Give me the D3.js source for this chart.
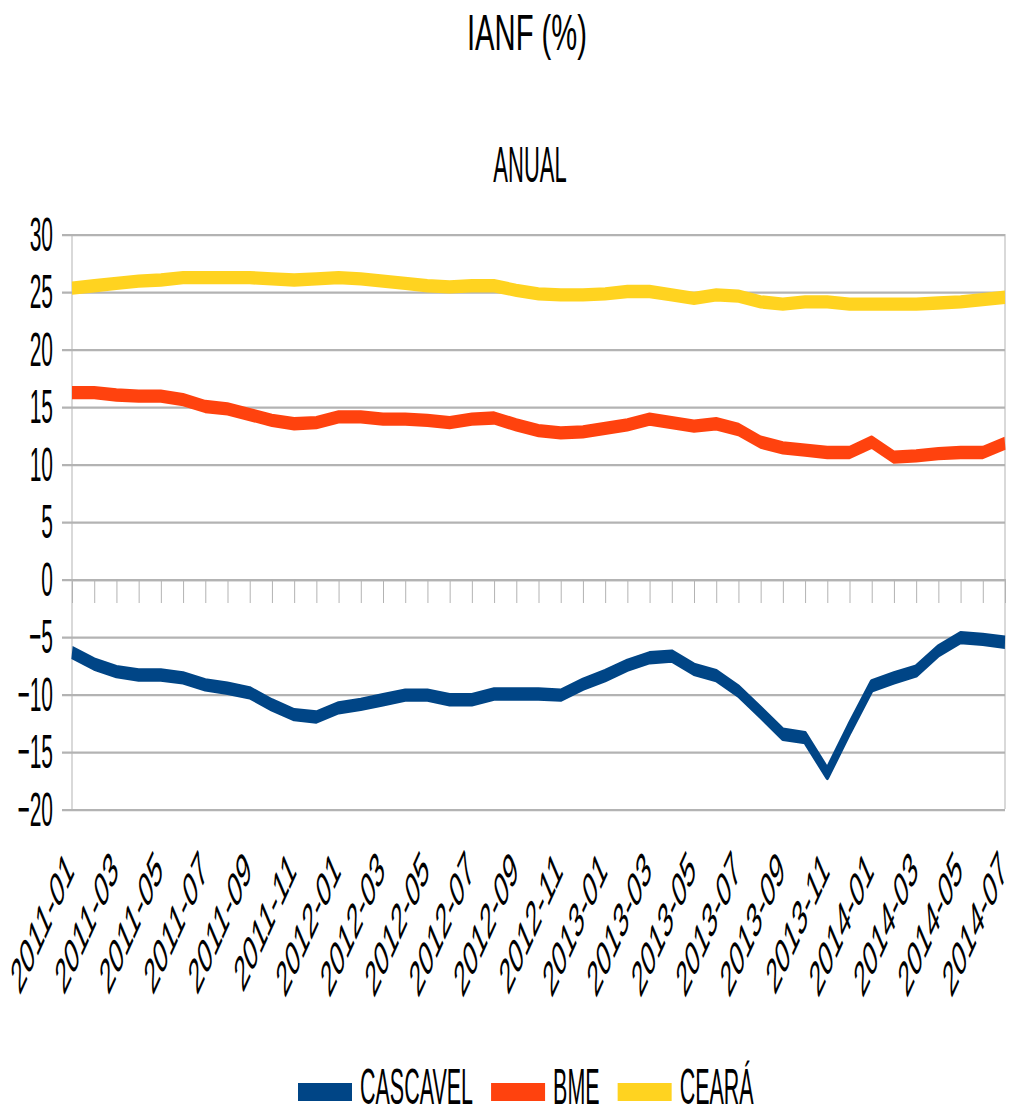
<!DOCTYPE html>
<html>
<head>
<meta charset="utf-8">
<script src="https://cdn.jsdelivr.net/npm/d3@7"></script>
<style>
  body { margin: 0; background: #fff; }
  text { font-family: "Liberation Sans", Arial, sans-serif; fill: #000; }
</style>
</head>
<body>
<div id="chart"></div>
<script>
var months = [
	"2011-01", "2011-02", "2011-03", "2011-04", "2011-05", "2011-06", "2011-07", "2011-08", "2011-09", "2011-10", "2011-11", "2011-12",
	"2012-01", "2012-02", "2012-03", "2012-04", "2012-05", "2012-06", "2012-07", "2012-08", "2012-09", "2012-10", "2012-11", "2012-12",
	"2013-01", "2013-02", "2013-03", "2013-04", "2013-05", "2013-06", "2013-07", "2013-08", "2013-09", "2013-10", "2013-11", "2013-12",
	"2014-01", "2014-02", "2014-03", "2014-04", "2014-05", "2014-06", "2014-07"
];

var cascavel = [-6.4, -7.4, -8.05, -8.35, -8.35, -8.6, -9.2, -9.5, -9.9, -10.95, -11.8, -12.0, -11.2, -10.9, -10.5, -10.1, -10.1, -10.5, -10.5, -10.0,
	-10.0, -10.0, -10.1, -9.15, -8.4, -7.5, -6.85, -6.7, -7.85, -8.4, -9.75, -11.6, -13.5, -13.8, -16.9, -13.0, -9.3, -8.6, -8.0, -6.25, -5.1, -5.25, -5.5];
var bme = [16.2, 16.2, 16.0, 15.9, 15.9, 15.6, 15.0, 14.8, 14.3, 13.8, 13.5, 13.6, 14.1, 14.1, 13.9, 13.9, 13.8, 13.6, 13.9, 14.0,
	13.4, 12.9, 12.7, 12.8, 13.1, 13.4, 13.9, 13.6, 13.3, 13.5, 13.0, 11.9, 11.4, 11.2, 11.0, 11.0, 11.9, 10.6, 10.7, 10.9, 11.0, 11.0, 11.8];
var ceara = [25.3, 25.5, 25.7, 25.9, 26.0, 26.2, 26.2, 26.2, 26.2, 26.1, 26.0, 26.1, 26.2, 26.1, 25.9, 25.7, 25.5, 25.4, 25.5, 25.5,
	25.1, 24.8, 24.7, 24.7, 24.8, 25.0, 25.0, 24.7, 24.4, 24.7, 24.6, 24.1, 23.9, 24.1, 24.1, 23.9, 23.9, 23.9, 23.9, 24.0, 24.1, 24.3, 24.5];

var seriesNames = ["CASCAVEL", "BME", "CEARÁ"];
var seriesColors = ["#004586", "#ff420e", "#ffd320"];
var yTicks = [-20, -15, -10, -5, 0, 5, 10, 15, 20, 25, 30];

// the picture is stretched vertically, so everything is drawn squeezed and scaled back up
var K = 2.3;
var W = 1012, H = 1113;
var plotLeft = 72, plotRight = 1005, plotTop = 234, plotBottom = 809;

var svg = d3.select("#chart").append("svg")
	.attr("width", W)
	.attr("height", H);

svg.append("rect").attr("width", W).attr("height", H).attr("fill", "#fff");

var g = svg.append("g").attr("transform", "scale(1," + K + ")");

var x = d3.scalePoint().domain(months).range([plotLeft, plotRight]);
var y = d3.scaleLinear().domain([-20, 30]).range([plotBottom / K, plotTop / K]);

// titles
g.append("text")
	.attr("x", 527).attr("y", 50 / K)
	.attr("text-anchor", "middle")
	.attr("font-size", 22)
	.attr("textLength", 120)
	.attr("lengthAdjust", "spacingAndGlyphs")
	.text("IANF (%)");

g.append("text")
	.attr("x", 530).attr("y", 182 / K)
	.attr("text-anchor", "middle")
	.attr("font-size", 22)
	.text("ANUAL");

// y axis with grid
var yAxis = g.append("g")
	.attr("transform", "translate(" + plotLeft + ",0)")
	.call(d3.axisLeft(y).tickValues(yTicks).tickSize(-(plotRight - plotLeft)).tickPadding(19).tickFormat(d3.format("d")));
yAxis.select(".domain").remove();
yAxis.selectAll(".tick line")
	.attr("x1", -10)
	.attr("stroke", "#b3b3b3")
	.attr("stroke-width", 1);
yAxis.selectAll(".tick text")
	.attr("font-size", 21)
	.attr("font-family", "Liberation Sans, Arial, sans-serif")
	.attr("fill", "#000");

// frame sides
g.append("line").attr("x1", plotLeft).attr("x2", plotLeft).attr("y1", y(30)).attr("y2", y(-20))
	.attr("stroke", "#b3b3b3").attr("stroke-width", 1);
g.append("line").attr("x1", plotRight).attr("x2", plotRight).attr("y1", y(30)).attr("y2", y(-20))
	.attr("stroke", "#b3b3b3").attr("stroke-width", 1);

// x axis on zero, only tick marks
var xAxis = g.append("g")
	.attr("transform", "translate(0," + y(0) + ")")
	.call(d3.axisBottom(x).tickSize(24 / K).tickSizeOuter(0).tickFormat(""));
xAxis.select(".domain").attr("stroke", "#b3b3b3");
xAxis.selectAll(".tick line").attr("stroke", "#b3b3b3");

// rotated month labels, every other month
g.selectAll(".xlabel")
	.data(months.filter(function (d, i) { return i % 2 === 0; }))
	.enter()
	.append("text")
	.attr("class", "xlabel")
	.attr("text-anchor", "end")
	.attr("font-size", 21.6)
	.attr("dy", "0.35em")
	.attr("transform", function (d) {
		return "translate(" + (x(d) - 2) + "," + (860 / K) + ") rotate(-44)";
	})
	.text(function (d) { return d; });

// lines
var allSeries = [cascavel, bme, ceara];
var line = d3.line()
	.x(function (d, i) { return x(months[i]); })
	.y(function (d) { return y(d); });

g.selectAll(".series")
	.data(allSeries)
	.enter()
	.append("path")
	.attr("class", "series")
	.attr("fill", "none")
	.attr("stroke", function (d, i) { return seriesColors[i]; })
	.attr("stroke-width", 5.8)
	.attr("stroke-linejoin", "round")
	.attr("d", line);

// legend
var legend = g.append("g").attr("class", "legend");
var lx = 298;
seriesNames.forEach(function (name, i) {
	legend.append("rect")
		.attr("x", lx).attr("y", 1083 / K)
		.attr("width", 54).attr("height", 18 / K)
		.attr("fill", seriesColors[i]);
	var t = legend.append("text")
		.attr("x", lx + 62).attr("y", 1104 / K)
		.attr("font-size", 21.5)
		.text(name);
	lx = lx + 62 + t.node().getComputedTextLength() + 18;
});
</script>
</body>
</html>
